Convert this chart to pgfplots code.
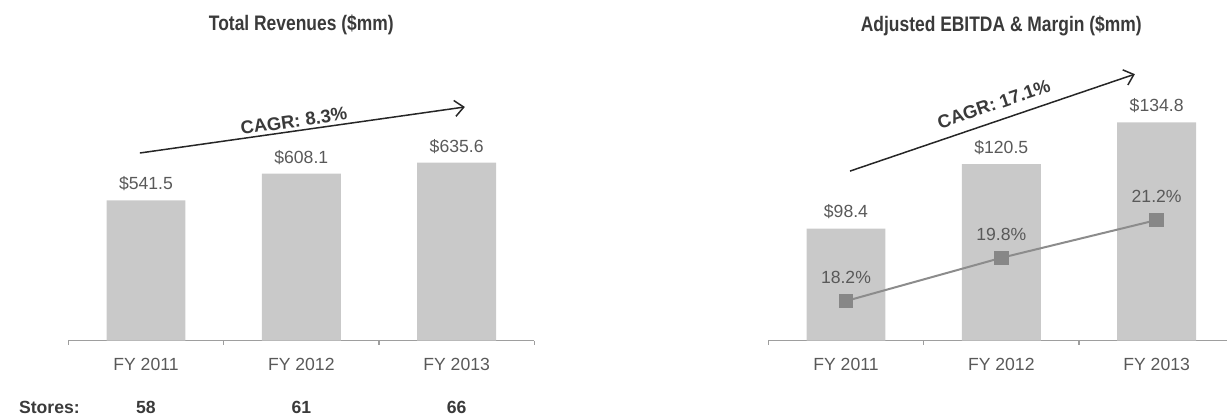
\documentclass[border=0pt]{standalone}
\usepackage{fontspec}
\setmainfont{Liberation Sans}
\newfontfamily\titlefont[FakeStretch=0.83]{Liberation Sans}
\usepackage{pgfplots}
\pgfplotsset{compat=1.18}
\usetikzlibrary{arrows.meta}

\definecolor{bargray}{HTML}{C9C9C9}
\definecolor{txtgray}{HTML}{595959}
\definecolor{ttlgray}{HTML}{3A3A3A}
\definecolor{linegray}{HTML}{8C8C8C}
\definecolor{markgray}{HTML}{878787}
\definecolor{axgray}{HTML}{9E9E9E}

\pgfplotsset{
  fin/.style={
    scale only axis, width=233pt, height=130.5pt,
    xmin=-0.5, xmax=2.5,
    axis x line*=bottom, axis y line=none,
    axis line style={axgray, line width=0.8pt, -},
    xtick={0,1,2}, xticklabels={FY 2011,FY 2012,FY 2013},
    major tick length=0pt,
    minor xtick={-0.5,0.5,1.5,2.5},
    minor tick length=2pt, tick align=outside,
    minor tick style={axgray, line width=0.6pt},
    ytick=\empty,
    xticklabel style={font=\fontsize{8.8}{10}\selectfont, text=txtgray, anchor=base, yshift=-15pt},
    clip=false,
  },
  valbar/.style={
    ybar, bar width=0.508, fill=bargray, draw=none,
    nodes near coords={\$\pgfmathprintnumber[fixed,fixed zerofill,precision=1,assume math mode=true]{\pgfplotspointmeta}},
    every node near coord/.append style={anchor=base, yshift=5.3pt,
      font=\fontsize{8.8}{10}\selectfont, text=txtgray},
  },
}
\tikzset{
  cagr/.style={font=\fontsize{9.2}{11}\selectfont\bfseries, text=ttlgray},
  ttl/.style={font=\titlefont\fontsize{10.5}{12}\selectfont\bfseries, text=ttlgray, anchor=base},
  store/.style={anchor=base, font=\fontsize{8.8}{10}\selectfont\bfseries, text=ttlgray},
}

\begin{document}
\begin{tikzpicture}

% Total revenues
\begin{axis}[fin, at={(34.15pt,37.65pt)}, anchor=south west, ymin=190, ymax=843.3]
\addplot[valbar] coordinates {(0,541.5) (1,608.1) (2,635.6)};
\draw[black!85, line width=0.75pt, -{Straight Barb[length=4.5pt,width=8pt]}]
  (axis cs:-0.039,659.8) -- (axis cs:2.053,775.0);
\node[cagr, rotate=8.1] at (axis cs:0.952,740) {CAGR: 8.3\%};
\node[ttl] at (rel axis cs:0.5,1.1866) {Total Revenues (\$mm)};
\node[store, anchor=base west] at (axis cs:-0.862,8.3) {Stores:};
\node[store] at (axis cs:0,8.3) {58};
\node[store] at (axis cs:1,8.3) {61};
\node[store] at (axis cs:2,8.3) {66};
\end{axis}

% Adjusted EBITDA
\begin{axis}[fin, at={(384.15pt,37.65pt)}, anchor=south west, ymin=60, ymax=149.4]
\addplot[valbar] coordinates {(0,98.4) (1,120.5) (2,134.8)};
\draw[black!85, line width=0.75pt, -{Straight Barb[length=4.5pt,width=8pt]}]
  (axis cs:0.026,118.1) -- (axis cs:1.860,151.3);
\node[cagr, rotate=18.8] at (axis cs:0.952,141.0) {CAGR: 17.1\%};
\node[ttl] at (rel axis cs:0.5,1.1866) {Adjusted EBITDA \& Margin (\$mm)};
\end{axis}

% EBITDA margin
\begin{axis}[scale only axis, width=233pt, height=130.5pt,
  at={(384.15pt,37.65pt)}, anchor=south west,
  xmin=-0.5, xmax=2.5, ymin=16.73, ymax=26.40, hide axis, clip=false]
\addplot[linegray, line width=1pt, mark=square*, mark size=3.1pt,
  mark options={fill=markgray, draw=markgray},
  nodes near coords={\pgfmathprintnumber[fixed,fixed zerofill,precision=1,assume math mode=true]{\pgfplotspointmeta}\%},
  every node near coord/.append style={anchor=base, yshift=8.8pt,
    font=\fontsize{8.8}{10}\selectfont, text=txtgray}]
  coordinates {(0,18.2) (1,19.8) (2,21.2)};
\end{axis}

\pgfresetboundingbox
\useasboundingbox (0,0) rectangle (613.5pt,208pt);
\end{tikzpicture}
\end{document}
